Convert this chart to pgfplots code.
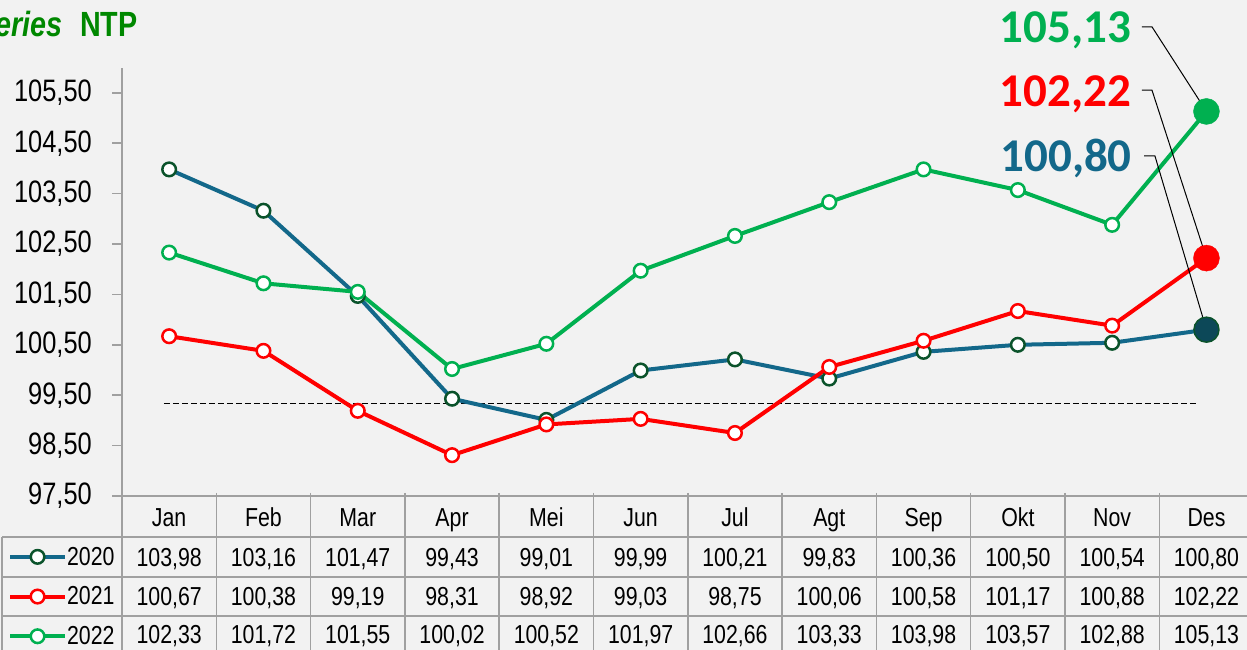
\documentclass[border=0pt]{standalone}
\usepackage{pgfplots}
\pgfplotsset{compat=1.18}
\usepackage{fontspec}
\setmainfont{Liberation Sans}[FakeStretch=0.82]
\newfontfamily\calfont{Carlito}

\definecolor{bg}{RGB}{242,242,242}
\definecolor{teal20}{RGB}{19,104,138}
\definecolor{dkgreen}{RGB}{11,83,43}
\definecolor{fill20}{RGB}{12,72,88}
\definecolor{red21}{RGB}{255,0,0}
\definecolor{green22}{RGB}{0,176,80}
\definecolor{titlegreen}{RGB}{0,136,0}
\definecolor{gridgray}{RGB}{160,160,160}

\begin{document}
\begin{tikzpicture}[x=1pt,y=1pt]
\useasboundingbox (0,0) rectangle (1247,650);
\fill[bg] (0,0) rectangle (1247,650);
% title
\node[anchor=base east, inner sep=0pt, text=titlegreen, font=\fontsize{35}{35}\selectfont\bfseries\itshape] at (63,613) {Series};
\node[anchor=base west, inner sep=0pt, text=titlegreen, font=\fontsize{35}{35}\selectfont\bfseries] at (80,613) {NTP};
\begin{axis}[
  scale only axis, width=1131.6pt, height=428.4pt,
  at={(122pt,154pt)}, anchor=south west,
  xmin=0.5, xmax=12.5, ymin=97.5, ymax=106,
  axis x line=none, axis y line*=left,
  xtick=\empty,
  ytick={97.5,98.5,99.5,100.5,101.5,102.5,103.5,104.5,105.5},
  tick align=outside, major tick length=10pt,
  y axis line style={gridgray, line width=1.5pt},
  y tick style={gridgray, line width=1.5pt},
  yticklabel style={font=\fontsize{31}{31}\selectfont, inner sep=0pt, xshift=-20pt,
    /pgf/number format/.cd, fixed, fixed zerofill, precision=2, use comma, assume math mode=true},
  clip=false,
  legend style={at={(-0.1007,-0.0957)}, anchor=north west, draw=none, fill=none,
    inner sep=0pt, outer sep=0pt, row sep=0pt, column sep=0pt,
    font=\fontsize{26}{26}\selectfont, nodes={inner sep=0pt, minimum height=39.7pt}},
  legend cell align=left,
  legend image code/.code={\draw[mark repeat=2, mark phase=2, #1] plot coordinates {(0pt,0pt)(27.5pt,0pt)(55pt,0pt)};},
]
\addplot[forget plot, black, line width=1.3pt, dash pattern=on 6pt off 3pt] coordinates {(0.945,99.34)(11.9,99.34)};

\addplot[teal20, line width=4pt, mark=*, mark size=6.8pt, mark options={fill=white, draw=dkgreen, line width=2.5pt}] coordinates {
(1,103.98)(2,103.16)(3,101.47)(4,99.43)(5,99.01)(6,99.99)(7,100.21)(8,99.83)(9,100.36)(10,100.50)(11,100.54)(12,100.80)};
\addlegendentry{2020}
\addplot[red21, line width=4pt, mark=*, mark size=6.8pt, mark options={fill=white, draw=red21, line width=2.5pt}] coordinates {
(1,100.67)(2,100.38)(3,99.19)(4,98.31)(5,98.92)(6,99.03)(7,98.75)(8,100.06)(9,100.58)(10,101.17)(11,100.88)(12,102.22)};
\addlegendentry{2021}
\addplot[green22, line width=4pt, mark=*, mark size=6.8pt, mark options={fill=white, draw=green22, line width=2.5pt}] coordinates {
(1,102.33)(2,101.72)(3,101.55)(4,100.02)(5,100.52)(6,101.97)(7,102.66)(8,103.33)(9,103.98)(10,103.57)(11,102.88)(12,105.13)};
\addlegendentry{2022}

\addplot[forget plot, only marks, mark=*, mark size=12.5pt, mark options={fill=fill20, draw=dkgreen, line width=1.5pt}] coordinates {(12,100.80)};
\addplot[forget plot, only marks, mark=*, mark size=13pt, mark options={fill=red21, draw=red21}] coordinates {(12,102.22)};
\addplot[forget plot, only marks, mark=*, mark size=13pt, mark options={fill=green22, draw=green22}] coordinates {(12,105.13)};

\node[anchor=base east, inner sep=0pt, text=green22, font=\calfont\bfseries\fontsize{47}{47}\selectfont] at (axis cs:11.2,106.49) {105,13};
\node[anchor=base east, inner sep=0pt, text=red21, font=\calfont\bfseries\fontsize{47}{47}\selectfont] at (axis cs:11.2,105.22) {102,22};
\node[anchor=base east, inner sep=0pt, text=teal20, font=\calfont\bfseries\fontsize{47}{47}\selectfont] at (axis cs:11.21,103.93) {100,80};
\draw[black, line width=1pt] (axis cs:11.316,106.81) -- (axis cs:11.422,106.81) -- (axis cs:12,105.13);
\draw[black, line width=1pt] (axis cs:11.316,105.555) -- (axis cs:11.422,105.555) -- (axis cs:12,102.22);
\draw[black, line width=1pt] (axis cs:11.338,104.246) -- (axis cs:11.454,104.246) -- (axis cs:12,100.80);
\end{axis}
% table grid
\begin{scope}[gridgray, line width=1.5pt]
\draw (122,154) -- (1256,154);
\draw (2,113) -- (1256,113);
\draw (2,73) -- (1256,73);
\draw (2,34) -- (1256,34);
\draw (122,154) -- (122,-2);
\draw (2,113) -- (2,-2);
\foreach \k in {1,...,12} \draw ({122+94.3*\k},157) -- ({122+94.3*\k},-2);
\end{scope}
% table text
\begin{scope}[font=\fontsize{26}{26}\selectfont, every node/.style={anchor=base, inner sep=0pt}]
\foreach \m [count=\i] in {Jan,Feb,Mar,Apr,Mei,Jun,Jul,Agt,Sep,Okt,Nov,Des}
  \node at ({122+94.3*(\i-0.5)},123.5) {\m};
\foreach \v [count=\i] in {{103,98},{103,16},{101,47},{99,43},{99,01},{99,99},{100,21},{99,83},{100,36},{100,50},{100,54},{100,80}}
  \node at ({122+94.3*(\i-0.5)},83.5) {\v};
\foreach \v [count=\i] in {{100,67},{100,38},{99,19},{98,31},{98,92},{99,03},{98,75},{100,06},{100,58},{101,17},{100,88},{102,22}}
  \node at ({122+94.3*(\i-0.5)},44.5) {\v};
\foreach \v [count=\i] in {{102,33},{101,72},{101,55},{100,02},{100,52},{101,97},{102,66},{103,33},{103,98},{103,57},{102,88},{105,13}}
  \node at ({122+94.3*(\i-0.5)},6.5) {\v};
\end{scope}
\end{tikzpicture}
\end{document}
